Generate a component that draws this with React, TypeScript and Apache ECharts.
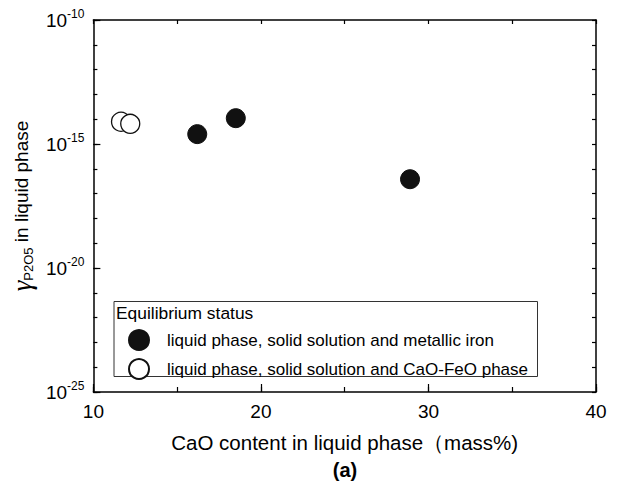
import React, { useEffect, useRef } from "react";
import * as echarts from "echarts";

const metallicIronCaO = [16.2, 18.5, 28.9];
const metallicIronGamma = [2.5e-15, 1.1e-14, 3.8e-17];
const caoFeoCaO = [11.65, 12.2];
const caoFeoGamma = [7.9e-15, 6.5e-15];
const xTicks = [10, 20, 30, 40];
const yExponents = [-25, -20, -15, -10];
const legendNames = [
  "liquid phase, solid solution and metallic iron",
  "liquid phase, solid solution and CaO-FeO phase",
];

const FONT = "'Liberation Sans', Arial, sans-serif";

export default function App() {
  const ref = useRef<HTMLDivElement>(null);
  useEffect(() => {
    if (!ref.current) return;
    const chart = echarts.init(ref.current, undefined, { renderer: "svg" });
    const gridL = 93, gridR = 26, gridT = 20, gridB = 101;
    const axisLine = { show: true, lineStyle: { color: "#000", width: 1.5 } };
    // y axis shows log10(gamma)
    const yBase = { type: "value", min: -25, max: -10, splitLine: { show: false } };
    const option: any = {
      animation: false,
      backgroundColor: "#fff",
      textStyle: { fontFamily: FONT },
      grid: { left: gridL, right: gridR, top: gridT, bottom: gridB },
      xAxis: [
        {
          type: "value", min: 10, max: 40, interval: 10, position: "bottom",
          axisLine, splitLine: { show: false },
          axisTick: { inside: true, length: 8, lineStyle: { color: "#000", width: 1.2 } },
          axisLabel: {
            color: "#000", fontSize: 19, fontFamily: FONT, margin: 10,
            formatter: (v: number) => (xTicks.includes(v) ? String(v) : ""),
          },
          name: "CaO content in liquid phase（mass%)",
          nameLocation: "middle", nameGap: 40,
          nameTextStyle: { color: "#000", fontSize: 20.5, fontFamily: FONT },
        },
        {
          type: "value", min: 10, max: 40, interval: 5, position: "bottom",
          axisLine: { show: false }, splitLine: { show: false }, axisLabel: { show: false },
          axisTick: { inside: true, length: 5, lineStyle: { color: "#000", width: 1.2 } },
        },
        {
          type: "value", min: 10, max: 40, interval: 5, position: "top",
          axisLine, splitLine: { show: false }, axisLabel: { show: false },
          axisTick: { inside: true, length: 4, lineStyle: { color: "#000", width: 1.2 } },
        },
      ],
      yAxis: [
        {
          ...yBase, interval: 1, position: "left",
          axisLine,
          axisTick: { inside: true, length: 4, lineStyle: { color: "#000", width: 1.2 } },
          axisLabel: {
            color: "#000", fontFamily: FONT, margin: 9,
            formatter: (v: number) => {
              const e = Math.round(v);
              return yExponents.includes(e) ? `{b|10}{s|${e}}` : "";
            },
            rich: {
              b: { fontSize: 19, fontFamily: FONT, color: "#000" },
              s: { fontSize: 12, fontFamily: FONT, color: "#000", verticalAlign: "top", padding: [0, 0, 12, 0] },
            },
          },
          name: "{g|γ}{sub|P2O5} in liquid phase",
          nameLocation: "middle", nameGap: 56,
          nameTextStyle: {
            color: "#000", fontSize: 19, fontFamily: FONT,
            rich: {
              g: { fontSize: 27, fontStyle: "italic", fontFamily: "'Liberation Serif', serif", color: "#000" },
              sub: { fontSize: 13, fontFamily: FONT, color: "#000", verticalAlign: "bottom", padding: [10, 0, 0, 0] },
            },
          },
        },
        {
          ...yBase, interval: 5, position: "left",
          axisLine: { show: false }, axisLabel: { show: false },
          axisTick: { inside: true, length: 7, lineStyle: { color: "#000", width: 1.2 } },
        },
        {
          ...yBase, interval: 1, position: "right",
          axisLine, axisLabel: { show: false },
          axisTick: { inside: true, length: 4, lineStyle: { color: "#000", width: 1.2 } },
        },
      ],
      legend: {
        orient: "vertical", left: 123, top: 324, itemGap: 7,
        itemWidth: 20, itemHeight: 20, icon: "circle",
        textStyle: { color: "#000", fontSize: 17, fontFamily: FONT, padding: [0, 0, 0, 13] },
        data: legendNames,
      },
      graphic: [
        {
          type: "rect", shape: { x: 114, y: 301.5, width: 423.5, height: 75 },
          style: { fill: "none", stroke: "#333", lineWidth: 1 }, z: 1,
        },
        {
          type: "text", x: 116, y: 304,
          style: { text: "Equilibrium status", fill: "#000", font: `17.4px ${FONT}` },
        },
        {
          type: "text", x: 345, y: 470,
          style: { text: "(a)", fill: "#000", font: `bold 20px ${FONT}`, align: "center", verticalAlign: "middle" },
        },
      ],
      series: [
        {
          name: legendNames[0], type: "scatter", xAxisIndex: 0, yAxisIndex: 0,
          symbol: "circle", symbolSize: 19,
          itemStyle: { color: "#111", borderColor: "#111", borderWidth: 1, opacity: 1 },
          data: metallicIronCaO.map((x, i) => [x, Math.log10(metallicIronGamma[i])]),
        },
        {
          name: legendNames[1], type: "scatter", xAxisIndex: 0, yAxisIndex: 0,
          symbol: "circle", symbolSize: 19,
          itemStyle: { color: "#fff", borderColor: "#111", borderWidth: 1.3, opacity: 1 },
          data: caoFeoCaO.map((x, i) => [x, Math.log10(caoFeoGamma[i])]),
        },
      ],
    };
    chart.setOption(option);
    return () => chart.dispose();
  }, []);
  return <div ref={ref} style={{ width: 622, height: 493, position: "absolute", left: 0, top: 0 }} />;
}
